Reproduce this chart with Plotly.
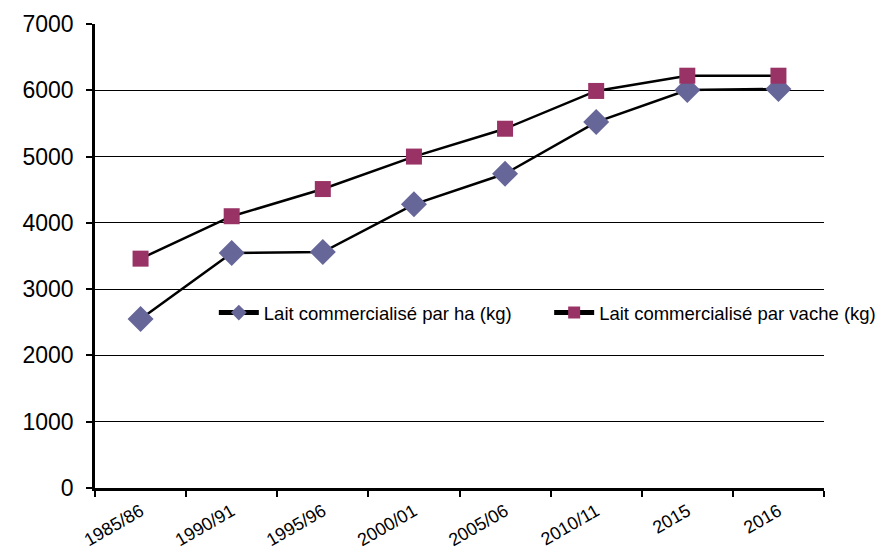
import plotly.graph_objects as go

categories = ["1985/86", "1990/91", "1995/96", "2000/01", "2005/06", "2010/11", "2015", "2016"]
lait_par_ha = [2550, 3545, 3560, 4280, 4740, 5520, 6005, 6020]
lait_par_vache = [3460, 4100, 4510, 5000, 5420, 5990, 6220, 6220]
y_ticks = [0, 1000, 2000, 3000, 4000, 5000, 6000, 7000]

fig = go.Figure()
fig.add_trace(go.Scatter(
    x=categories, y=lait_par_ha, mode="lines+markers",
    name="Lait commercialisé par ha (kg)",
    line=dict(color="black", width=2.5),
    marker=dict(symbol="diamond", size=20, color="#666699"),
    legend="legend",
))
fig.add_trace(go.Scatter(
    x=categories, y=lait_par_vache, mode="lines+markers",
    name="Lait commercialisé par vache (kg)",
    line=dict(color="black", width=2.5),
    marker=dict(symbol="square", size=16, color="#993366"),
    legend="legend2",
))

legend_common = dict(
    orientation="h", y=0.377, xanchor="left", yanchor="middle",
    bgcolor="rgba(0,0,0,0)", font=dict(size=18.5), itemwidth=40,
    itemsizing="constant",
)

fig.update_layout(
    width=888, height=553,
    margin=dict(l=95, r=64, t=24, b=65, autoexpand=False),
    paper_bgcolor="white", plot_bgcolor="white",
    font=dict(family="Liberation Sans, Arial, sans-serif", color="black"),
    showlegend=True,
    legend=dict(x=0.163, **legend_common),
    legend2=dict(x=0.623, **legend_common),
    xaxis=dict(
        type="category", categoryorder="array", categoryarray=categories,
        tickson="boundaries", ticks="outside", ticklen=6, tickwidth=2, tickcolor="black",
        showline=True, linecolor="black", linewidth=2.5,
        showgrid=False, tickangle=-30, tickfont=dict(size=18),
        ticklabelstandoff=3, automargin=False,
        range=[-0.5, len(categories) - 0.5],
    ),
    yaxis=dict(
        range=[0, 7000], tickvals=y_ticks, ticktext=[str(v) for v in y_ticks],
        ticks="outside", ticklen=6, tickwidth=1.5, tickcolor="black",
        showline=True, linecolor="black", linewidth=2.5,
        showgrid=True, gridcolor="black", gridwidth=1, zeroline=False,
        tickfont=dict(size=23), ticklabelstandoff=8, automargin=False,
    ),
)

fig.write_html("out.html", config={"displayModeBar": False},
               post_script="document.body.style.margin='0';")
